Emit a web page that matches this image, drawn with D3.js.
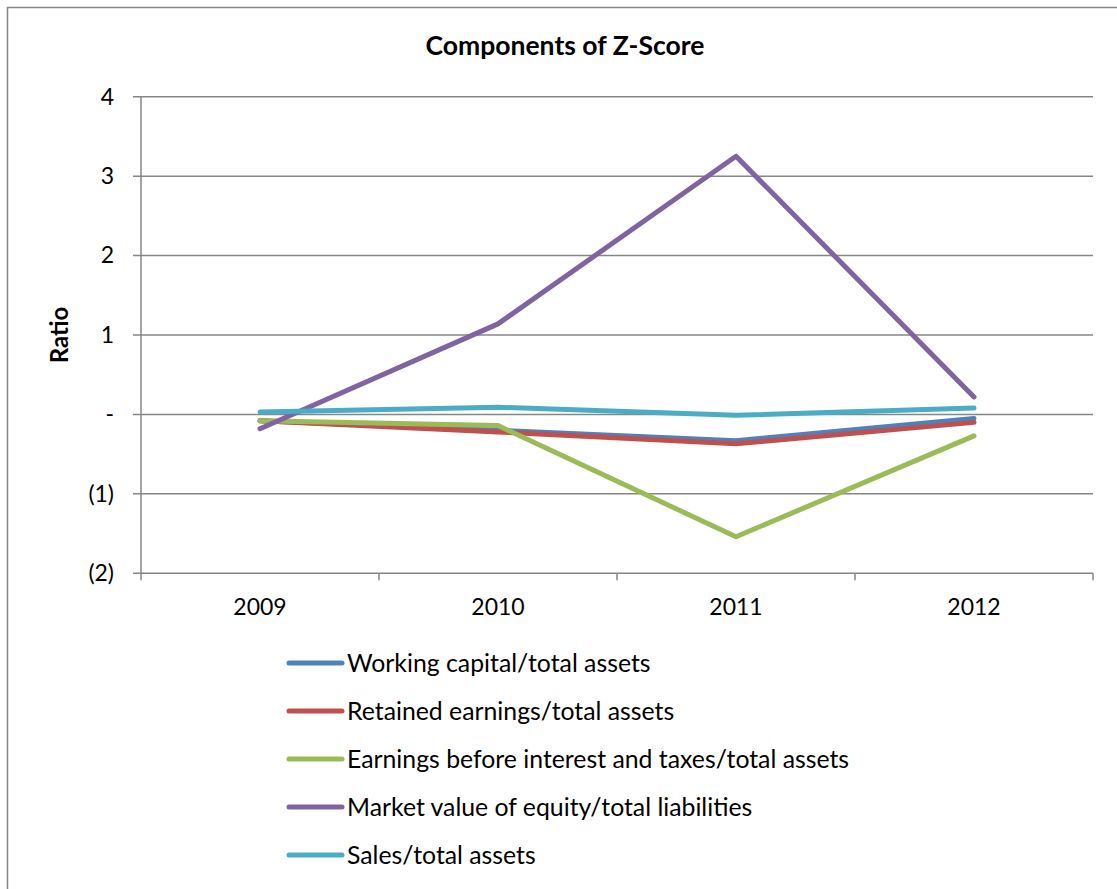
<!DOCTYPE html>
<html><head><meta charset="utf-8">
<script src="https://cdn.jsdelivr.net/npm/d3@7"></script>
<style>body{margin:0;background:#fff;} svg{display:block;}</style>
</head><body>
<script>
const years = ["2009","2010","2011","2012"];
const seriesNames = ["Working capital/total assets","Retained earnings/total assets","Earnings before interest and taxes/total assets","Market value of equity/total liabilities","Sales/total assets"];
const workingCapital = [-0.08,-0.20,-0.33,-0.05];
const retainedEarnings = [-0.08,-0.22,-0.37,-0.10];
const ebit = [-0.08,-0.14,-1.54,-0.27];
const marketValue = [-0.18,1.14,3.25,0.22];
const sales = [0.03,0.09,-0.01,0.08];
const seriesValues = [workingCapital,retainedEarnings,ebit,marketValue,sales];
const colors = ["#4F81BD","#C0504D","#9BBB59","#8064A2","#4BACC6"];
const yTicks = [-2,-1,0,1,2,3,4];
const yTickLabels = ["(2)","(1)","-","1","2","3","4"];

const W=1117,H=889;
const font = "Lato, 'Open Sans', sans-serif";
const svg = d3.select("body").append("svg").attr("width",W).attr("height",H);
svg.append("rect").attr("x",7.5).attr("y",7.5).attr("width",W).attr("height",H).attr("fill","#fff").attr("stroke","#868686").attr("stroke-width",1.5);

const pLeft=141,pRight=1093,pTop=96.7,pBottom=573.3;
const x = d3.scaleBand().domain(years).range([pLeft,pRight]);
const y = d3.scaleLinear().domain([-2,4]).range([pBottom,pTop]);

const grid = svg.append("g");
yTicks.forEach(t=>{
  grid.append("line").attr("x1",pLeft-8).attr("x2",pRight).attr("y1",y(t)).attr("y2",y(t)).attr("stroke","#868686").attr("stroke-width",1.5);
});
grid.append("line").attr("x1",pLeft).attr("x2",pLeft).attr("y1",pTop).attr("y2",pBottom+7).attr("stroke","#868686").attr("stroke-width",1.5);
years.forEach((yr,i)=>{
  const bx = x(yr)+x.bandwidth();
  grid.append("line").attr("x1",bx).attr("x2",bx).attr("y1",pBottom).attr("y2",pBottom+7).attr("stroke","#868686").attr("stroke-width",1.5);
});

const yAxis = d3.axisLeft(y).tickValues(yTicks).tickFormat((d,i)=>yTickLabels[i]).tickSize(0).tickPadding(27);
const ya = svg.append("g").attr("transform",`translate(${pLeft},0)`).call(yAxis);
ya.select(".domain").remove();
ya.selectAll("text").attr("font-family",font).attr("font-size",23).attr("fill","#000");

const xAxis = d3.axisBottom(x).tickSize(0).tickPadding(25);
const xa = svg.append("g").attr("transform",`translate(0,${pBottom})`).call(xAxis);
xa.select(".domain").remove();
xa.selectAll("text").attr("font-family",font).attr("font-size",23).attr("fill","#000");

const line = d3.line().x((d,i)=>x(years[i])+x.bandwidth()/2).y(d=>y(d));
seriesValues.forEach((vals,k)=>{
  svg.append("path").datum(vals).attr("d",line).attr("fill","none").attr("stroke",colors[k]).attr("stroke-width",5).attr("stroke-linecap","round").attr("stroke-linejoin","round");
});

svg.append("text").attr("x",565).attr("y",55).attr("text-anchor","middle").attr("font-family",font).attr("font-weight","bold").attr("font-size",26.5).text("Components of Z-Score");
svg.append("text").attr("transform","translate(68,335) rotate(-90)").attr("text-anchor","middle").attr("font-family",font).attr("font-weight","bold").attr("font-size",24).text("Ratio");

const lg = svg.append("g");
seriesNames.forEach((n,k)=>{
  const yy = 663 + k*48;
  lg.append("line").attr("x1",289).attr("x2",342).attr("y1",yy).attr("y2",yy).attr("stroke",colors[k]).attr("stroke-width",5).attr("stroke-linecap","round");
  lg.append("text").attr("x",347).attr("y",yy).attr("dy","0.35em").attr("font-family",font).attr("font-size",24.8).attr("fill","#000").text(n);
});
</script>
</body></html>
